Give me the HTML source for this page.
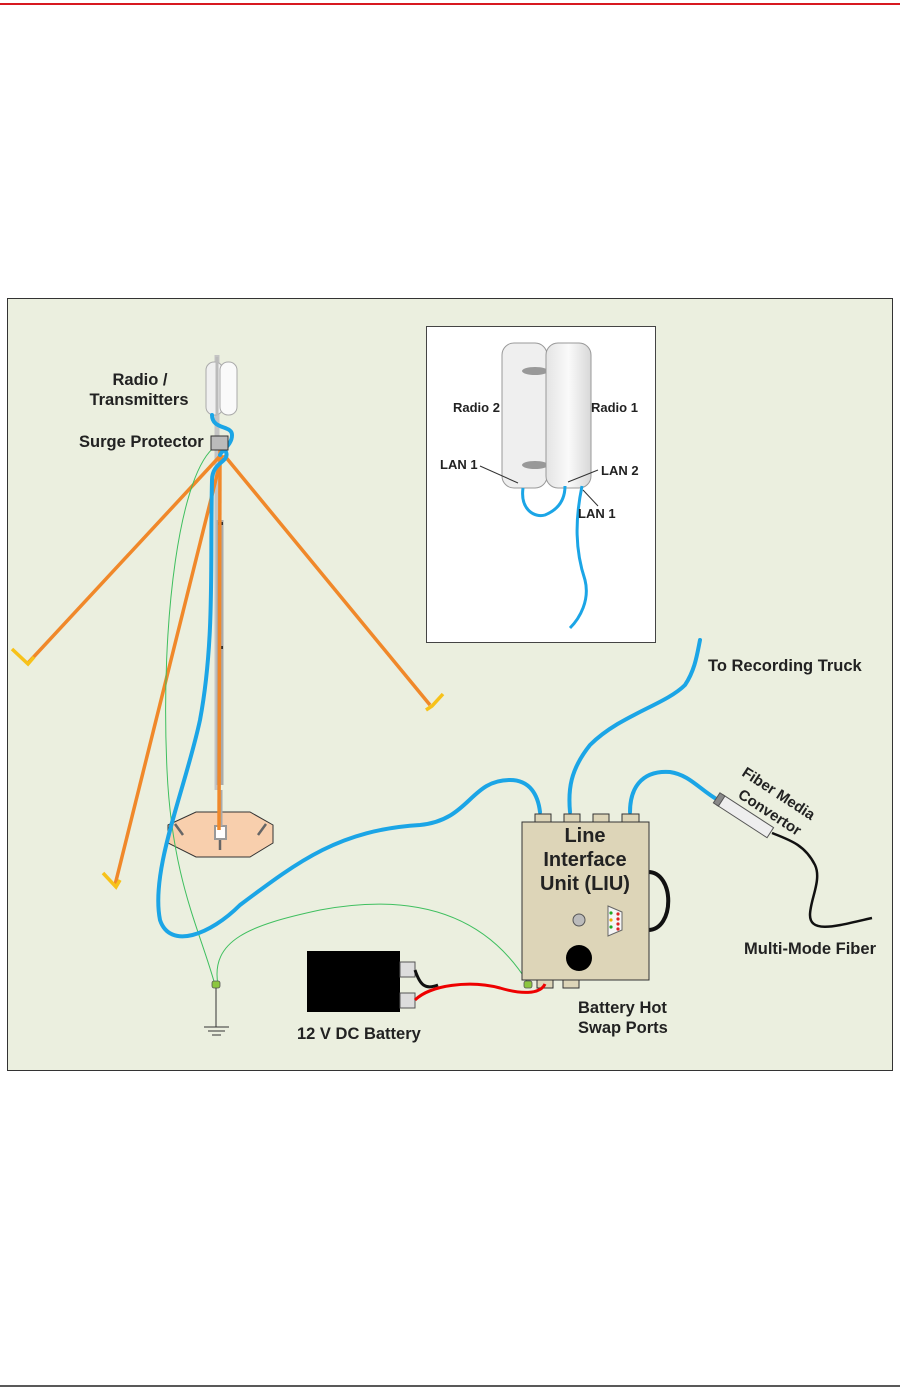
<!DOCTYPE html>
<html><head><style>
html,body{margin:0;padding:0;background:#fff;}
svg{display:block;}
text{font-family:"Liberation Sans",Arial,sans-serif;font-weight:bold;fill:#222;}
</style></head><body>
<svg width="900" height="1390" viewBox="0 0 900 1390" xmlns="http://www.w3.org/2000/svg">
<rect width="900" height="1390" fill="#fff"/>
<line x1="0" y1="4" x2="900" y2="4" stroke="#d71920" stroke-width="2"/>
<line x1="0" y1="1386" x2="900" y2="1386" stroke="#222" stroke-width="1.5"/>
<rect x="7.5" y="298.5" width="885" height="772" fill="#ebefdf" stroke="#333" stroke-width="1"/>

<!-- inset -->
<rect x="426.5" y="326.5" width="229" height="316" fill="#fff" stroke="#444" stroke-width="1"/>
<rect x="502" y="343" width="45" height="145" rx="12" fill="#efefef" stroke="#999"/>
<ellipse cx="535" cy="371" rx="13" ry="4" fill="#999"/>
<ellipse cx="535" cy="465" rx="13" ry="4" fill="#999"/>
<defs><linearGradient id="g1" x1="0" x2="1"><stop offset="0" stop-color="#e4e4e4"/><stop offset="0.5" stop-color="#fafafa"/><stop offset="1" stop-color="#d8d8d8"/></linearGradient></defs>
<rect x="546" y="343" width="45" height="145" rx="12" fill="url(#g1)" stroke="#999"/>
<path d="M523 488 C520 510 535 518 545 515 C562 508 565 495 565 486" fill="none" stroke="#1ba5e6" stroke-width="3"/>
<path d="M582 486 C575 520 575 550 585 580 C590 600 580 618 570 628" fill="none" stroke="#1ba5e6" stroke-width="3"/>
<line x1="480" y1="466" x2="518" y2="483" stroke="#333"/>
<line x1="598" y1="470" x2="568" y2="482" stroke="#333"/>
<line x1="583" y1="490" x2="598" y2="506" stroke="#333"/>
<text x="453" y="412" font-size="13">Radio 2</text>
<text x="591" y="412" font-size="13">Radio 1</text>
<text x="440" y="469" font-size="13">LAN 1</text>
<text x="601" y="475" font-size="13">LAN 2</text>
<text x="578" y="518" font-size="13">LAN 1</text>

<!-- mast -->
<line x1="217" y1="355" x2="217" y2="790" stroke="#c4c4c4" stroke-width="5"/>
<line x1="220" y1="520" x2="220" y2="785" stroke="#aaa" stroke-width="7"/>
<rect x="218" y="522" width="5" height="3" fill="#333"/>
<rect x="218" y="646" width="5" height="3" fill="#333"/>
<!-- base -->
<polygon points="196,812 250,812 273,825 273,843 250,857 196,857 168,843 168,825" fill="#f8cfad" stroke="#333"/>
<line x1="175" y1="824" x2="183" y2="835" stroke="#666" stroke-width="2.5"/>
<line x1="266" y1="824" x2="258" y2="835" stroke="#666" stroke-width="2.5"/>
<line x1="220" y1="838" x2="220" y2="850" stroke="#666" stroke-width="2.5"/>
<rect x="215" y="826" width="11" height="13" fill="#fff" stroke="#999" stroke-width="2"/>
<line x1="220" y1="790" x2="220" y2="826" stroke="#aaa" stroke-width="5"/>

<!-- radios on top -->
<rect x="206" y="362" width="17" height="53" rx="8" fill="#f0f0f0" stroke="#aaa"/>
<rect x="220" y="362" width="17" height="53" rx="8" fill="#fafafa" stroke="#aaa"/>
<line x1="217" y1="357" x2="217" y2="415" stroke="#bbb" stroke-width="3"/>

<!-- guy lines orange -->
<g stroke="#f0882a" stroke-width="3.5" fill="none">
<line x1="221" y1="455" x2="28" y2="663"/>
<line x1="224" y1="455" x2="430" y2="705"/>
<line x1="222" y1="455" x2="115" y2="885"/>
<line x1="220" y1="450" x2="219" y2="830"/>
</g>
<g stroke="#f7c21a" stroke-width="3.5" fill="none">
<polyline points="12,649 28,664 34,657"/>
<polyline points="426,710 432,706 443,694"/>
<polyline points="103,873 116,887 120,880"/>
</g>

<!-- green ground wires -->
<g stroke="#3fbf5f" stroke-width="1" fill="none">
<path d="M216 446 C180 470 160 620 167 770 C172 880 200 930 215 985"/>
<path d="M218 985 C210 940 250 925 320 910 C400 895 480 905 528 983"/>
</g>
<rect x="212" y="981" width="8" height="7" rx="2" fill="#8cc63f" stroke="#555" stroke-width="0.8"/>
<line x1="216" y1="988" x2="216" y2="1027" stroke="#333"/>
<line x1="204" y1="1027" x2="229" y2="1027" stroke="#333"/>
<line x1="208" y1="1031" x2="225" y2="1031" stroke="#333"/>
<line x1="212" y1="1035" x2="221" y2="1035" stroke="#333"/>

<!-- blue cables -->
<g stroke="#1ba5e6" stroke-width="4" fill="none" stroke-linecap="round">
<path d="M212 415 C212 430 232 425 232 435 C232 445 222 450 220 455"/>
<path d="M226 452 C230 462 212 462 212 480 C210 560 215 640 200 720 C185 790 150 870 160 920 C170 950 210 935 240 905 C300 860 340 830 420 825 C470 820 470 780 510 780 C530 780 538 795 540 812"/>
<path d="M570 812 C568 790 570 770 590 745 C620 715 665 705 685 685 C695 670 697 655 700 640"/>
<path d="M630 812 C630 790 640 770 670 772 C690 775 700 790 718 800"/>
</g>
<rect x="211" y="436" width="17" height="14" fill="#bbb" stroke="#333"/>

<!-- fiber convertor -->
<g transform="translate(720,800) rotate(33)">
<rect x="0" y="-6" width="60" height="12" fill="#eee" stroke="#555"/>
<rect x="-4" y="-6" width="6" height="12" fill="#888" stroke="#555"/>
</g>
<path d="M772 833 C790 840 805 845 815 865 C822 880 810 900 810 915 C810 935 840 925 872 918" fill="none" stroke="#111" stroke-width="2.5"/>
<text x="0" y="0" font-size="15" transform="translate(741,775) rotate(33)">Fiber Media</text>
<text x="0" y="0" font-size="15" transform="translate(737,797) rotate(33)">Convertor</text>
<text x="744" y="954" font-size="16.5">Multi-Mode Fiber</text>
<text x="708" y="671" font-size="16.5">To Recording Truck</text>

<!-- LIU -->
<path d="M648 872 C675 872 675 930 648 930" fill="none" stroke="#111" stroke-width="4"/>
<g fill="#ddd5b8" stroke="#333">
<rect x="535" y="814" width="16" height="8"/>
<rect x="564" y="814" width="16" height="8"/>
<rect x="593" y="814" width="16" height="8"/>
<rect x="622" y="814" width="17" height="8"/>
<rect x="537" y="980" width="16" height="8"/>
<rect x="563" y="980" width="16" height="8"/>
<rect x="522" y="822" width="127" height="158"/>
</g>
<text x="585" y="842" font-size="20" text-anchor="middle">Line</text>
<text x="585" y="866" font-size="20" text-anchor="middle">Interface</text>
<text x="585" y="890" font-size="20" text-anchor="middle">Unit (LIU)</text>
<circle cx="579" cy="920" r="6" fill="#bbb" stroke="#555"/>
<circle cx="579" cy="958" r="13" fill="#000"/>
<polygon points="608,906 622,912 622,930 608,936" fill="#f5f5f5" stroke="#666"/>
<circle cx="611" cy="913" r="1.6" fill="#2a2"/><circle cx="611" cy="920" r="1.6" fill="#ea0"/><circle cx="611" cy="927" r="1.6" fill="#2a2"/>
<circle cx="618" cy="914" r="1.6" fill="#d22"/><circle cx="618" cy="919" r="1.6" fill="#d22"/><circle cx="618" cy="924" r="1.6" fill="#d22"/><circle cx="618" cy="929" r="1.6" fill="#d22"/>
<rect x="524" y="981" width="8" height="7" rx="2" fill="#8cc63f" stroke="#555" stroke-width="0.8"/>

<!-- battery -->
<rect x="307" y="951" width="93" height="61" fill="#000"/>
<rect x="400" y="962" width="15" height="15" fill="#ddd" stroke="#555"/>
<rect x="400" y="993" width="15" height="15" fill="#ddd" stroke="#555"/>
<path d="M415 970 C420 985 425 990 438 985" fill="none" stroke="#111" stroke-width="3"/>
<path d="M415 1000 C430 985 470 980 500 988 C520 994 540 995 545 984" fill="none" stroke="#e00" stroke-width="3"/>

<text x="297" y="1039" font-size="16.5">12 V DC Battery</text>
<text x="578" y="1013" font-size="16.5">Battery Hot</text>
<text x="578" y="1033" font-size="16.5">Swap Ports</text>
<text x="140" y="385" font-size="16.5" text-anchor="middle">Radio /</text>
<text x="139" y="405" font-size="16.5" text-anchor="middle">Transmitters</text>
<text x="79" y="447" font-size="16.5">Surge Protector</text>
</svg>
</body></html>
